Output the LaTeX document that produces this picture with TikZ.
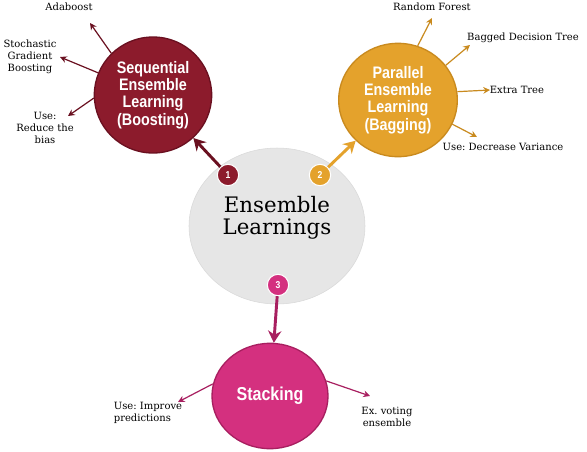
\documentclass[tikz,border=0pt]{standalone}
\usepackage{fontspec}
\setmainfont{DejaVu Serif}
\newfontfamily\circfont[FakeStretch=0.86]{Liberation Sans}
\usepackage{xcolor}
\usetikzlibrary{shapes.geometric, arrows, arrows.meta, positioning, calc}

\definecolor{boostred}{HTML}{8C1B2C}
\definecolor{boostdark}{HTML}{6A1020}
\definecolor{baggold}{HTML}{E4A22C}
\definecolor{bagdark}{HTML}{C98A1E}
\definecolor{stackpink}{HTML}{D4307F}
\definecolor{stackdark}{HTML}{A81F60}
\definecolor{ensgray}{HTML}{E6E6E6}

\begin{document}
\frenchspacing
\begin{tikzpicture}[
    x=0.75pt, y=-0.75pt,
    hub/.style={draw=gray!30, ellipse, fill=ensgray, inner sep=0pt, minimum width=132pt, minimum height=117pt},
    method/.style={draw, ellipse, line width=1pt, inner sep=0pt, align=center, text=white, font=\circfont\bfseries\fontsize{12.5}{13}\selectfont},
    badge/.style={circle, draw=white, line width=0.8pt, inner sep=0pt, minimum size=16pt, text=white, font=\circfont\bfseries\fontsize{7.5}{7.5}\selectfont},
    leaf/.style={align=center, font=\fontsize{7.5}{9}\selectfont},
    arrow/.style={-{Stealth[length=5pt,width=5pt]}, line width=0.9pt},
    bigarrow/.style={-{Stealth[length=9pt,width=10pt]}, line width=2.2pt}
]
\fill[white] (0,0) rectangle (587,451);
\useasboundingbox (0,0) rectangle (587,451);

% Central hub
\node[hub, label={[yshift=6pt, align=center, font=\fontsize{16}{16.5}\selectfont]center:Ensemble\\Learnings}] (ens) at (277,226) {};

% Methods
\node[method, fill=boostred, draw=boostdark, minimum width=88pt, minimum height=87pt] (boost) at (153,95) {Sequential\\Ensemble\\Learning\\(Boosting)};
\node[method, fill=baggold, draw=bagdark, minimum width=89pt, minimum height=85pt] (bag) at (398,100) {Parallel\\Ensemble\\Learning\\(Bagging)};
\node[method, fill=stackpink, draw=stackdark, minimum width=87pt, minimum height=79pt, font=\circfont\bfseries\fontsize{14}{14}\selectfont] (stack) at (270,396) {Stacking};

% Numbered badges
\node[badge, fill=boostred] (b1) at (228,175) {1};
\node[badge, fill=baggold] (b2) at (320,175) {2};
\node[badge, fill=stackpink] (b3) at (278,285) {3};

\draw[bigarrow, boostdark] (b1) -- (boost);
\draw[bigarrow, baggold] (b2) -- (bag);
\draw[bigarrow, stackdark] (b3) -- (stack);

% Boosting leaves
\node[leaf] (ada) at (69,7) {Adaboost};
\node[leaf] (sgb) at (30,57) {Stochastic\\Gradient\\Boosting};
\node[leaf] (bias) at (45,128) {Use:\\Reduce the\\bias};
\coordinate (adaTip) at (90,23);
\coordinate (sgbTip) at (60,57);
\coordinate (biasTip) at (68,116);

% Bagging leaves
\node[leaf] (rf) at (432,7) {Random Forest};
\node[leaf] (bdt) at (523,38) {Bagged Decision Tree};
\node[leaf] (et) at (517,90) {Extra Tree};
\node[leaf] (dv) at (503,147) {Use: Decrease Variance};
\coordinate (rfTip) at (432,18);
\coordinate (bdtTip) at (470,45);
\coordinate (etTip) at (490,90);
\coordinate (dvTip) at (477,137);

% Stacking leaves
\node[leaf, align=left] (imp) at (148,413) {Use: Improve\\predictions};
\node[leaf] (vote) at (387,417) {Ex. voting\\ensemble};
\coordinate (impTip) at (178,402);
\coordinate (voteTip) at (370,396);

% Connections
\foreach \a/\t in {135/adaTip, 158/sgbTip, 183/biasTip}
    \draw[arrow, boostdark] (boost.\a) -- (\t);
\foreach \a/\t in {70/rfTip, 36/bdtTip, 8/etTip, -24/dvTip}
    \draw[arrow, bagdark] (bag.\a) -- (\t);
\foreach \a/\t in {168/impTip, 15/voteTip}
    \draw[arrow, stackdark] (stack.\a) -- (\t);

\end{tikzpicture}
\end{document}
